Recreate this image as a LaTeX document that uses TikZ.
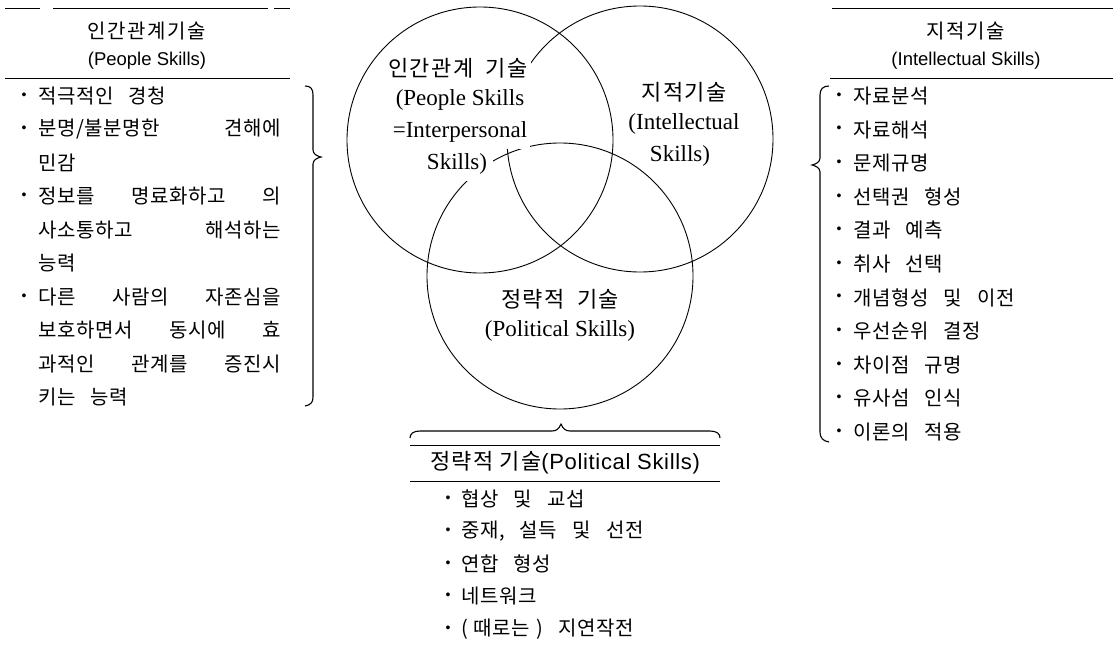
\documentclass[tikz,border=0pt]{standalone}
\usepackage{fontspec}
\setmainfont{Liberation Serif}
\newfontfamily\kr[LetterSpace=3,WordSpace=3]{Noto Sans CJK KR}
\newfontfamily\krh[LetterSpace=8]{Noto Sans CJK KR}
\newfontfamily\krt[LetterSpace=6]{Noto Sans CJK KR}
\newfontfamily\krv[LetterSpace=6,WordSpace=2]{Noto Sans CJK KR}
\newfontfamily\hsans{Liberation Sans}
\newfontfamily\hsanst[LetterSpace=3]{Liberation Sans}
\tikzset{
  ln/.style={line width=1pt},
  br/.style={line width=1.1pt},
  vc/.style={line width=0.9pt},
  hdk/.style={inner sep=0pt, font={\krh\fontsize{20}{22}\selectfont}},
  hde/.style={inner sep=0pt, font={\hsans\fontsize{18.5}{20}\selectfont}},
  li/.style={anchor=west, inner sep=0pt, font={\kr\fontsize{20}{22}\selectfont}},
  bu/.style={inner sep=0pt, font={\hsans\fontsize{14}{15}\selectfont}},
  vk/.style={inner xsep=3pt, inner ysep=0pt, minimum height=33pt, fill=white, font={\krv\fontsize{22}{24}\selectfont}},
  ve/.style={inner xsep=3pt, inner ysep=0pt, minimum height=33pt, fill=white, font={\fontsize{23}{25}\selectfont}},
}
\newcommand{\jl}[1]{\makebox[243pt][s]{#1}}
\begin{document}
\begin{tikzpicture}[x=1pt,y=-1pt]
\useasboundingbox (0,0) rectangle (1115,645);
% ---------- Venn circles
\draw[vc] (480,140) circle[radius=133pt];
\draw[vc] (640,139) circle[radius=133pt];
\draw[vc] (560,276) circle[radius=133pt];
% Venn labels
\node[vk] (p1) at (458,68) {인간관계 기술};
\node[ve] (p2) at (460,100) {(People Skills};
\node[ve] (p3) at (460,132) {=Interpersonal};
\node[ve, inner xsep=6pt] (p4) at (457,164) {Skills)};
\node[vk] (i1) at (684,92) {지적기술};
\node[ve] (i2) at (684,124) {(Intellectual};
\node[ve] (i3) at (680,156) {Skills)};
\node[vk] (c1) at (560,299) {정략적 기술};
\node[ve] (c2) at (560,331) {(Political Skills)};
% ---------- Left block
\draw[ln] (5,8) -- (40,8);
\draw[ln] (53,8) -- (268,8);
\draw[ln] (274,8) -- (290,8);
\node[hdk] (lh1) at (147,31) {인간관계기술};
\node[hde] (lh2) at (147,61) {(People Skills)};
\draw[ln] (5,78) -- (290,78);
\node[bu] (lb1) at (24,96) {•};
\node[li] (l1) at (38,96) {적극적인 경청};
\node[bu] (lb2) at (24,129.5) {•};
\node[li] (l2) at (38,129.5) {\jl{분명/불분명한 견해에}};
\node[li] (l3) at (38,163) {민감};
\node[bu] (lb3) at (24,196.5) {•};
\node[li] (l4) at (38,196.5) {\jl{정보를 명료화하고 의}};
\node[li] (l5) at (38,230) {\jl{사소통하고 해석하는}};
\node[li] (l6) at (38,263.5) {능력};
\node[bu] (lb4) at (24,297) {•};
\node[li] (l7) at (38,297) {\jl{다른 사람의 자존심을}};
\node[li] (l8) at (38,330.5) {\jl{보호하면서 동시에 효}};
\node[li] (l9) at (38,364) {\jl{과적인 관계를 증진시}};
\node[li] (l10) at (38,397.5) {키는 능력};
\draw[br] (305,86) .. controls (311,86) and (313,89) .. (313,95) -- (313,150)
  .. controls (313,154) and (317,156) .. (321,157)
  .. controls (317,158) and (313,160) .. (313,164) -- (313,397)
  .. controls (313,402) and (311,405) .. (305,406);
% ---------- Right block
\draw[ln] (832,8) -- (1113,8);
\node[hdk] (rh1) at (966,31) {지적기술};
\node[hde] (rh2) at (966,61) {(Intellectual Skills)};
\draw[ln] (830,78) -- (1113,78);
\foreach \t [count=\i from 0] in {자료분석,자료해석,문제규명,선택권 형성,결과 예측,취사 선택,개념형성 및 이전,우선순위 결정,차이점 규명,유사섬 인식,이론의 적용}{
  \node[bu] (rb\i) at (839,96+33.6*\i) {•};
  \node[li] (r\i) at (853,96+33.6*\i) {\t};
}
\draw[br] (829,86) .. controls (823,86) and (820,89) .. (820,95) -- (820,158)
  .. controls (820,162) and (816,164) .. (812,165)
  .. controls (816,166) and (820,168) .. (820,172) -- (820,432)
  .. controls (820,438) and (823,441) .. (829,442);
% ---------- Bottom block
\draw[br] (410,438) .. controls (410,434) and (413,431) .. (420,431) -- (552,431)
  .. controls (556,431) and (559,429) .. (561,424)
  .. controls (563,429) and (566,431) .. (570,431) -- (710,431)
  .. controls (717,431) and (720,434) .. (720,438);
\draw[ln] (410,445) -- (720,445);
\node[inner sep=0pt] (bh) at (565,463) {{\krt\fontsize{22}{24}\selectfont 정략적}{\hsans\fontsize{22}{24}\selectfont\ }{\krt\fontsize{22}{24}\selectfont 기술}{\hsanst\fontsize{22}{24}\selectfont (Political Skills)}};
\draw[ln] (410,481) -- (720,481);
\foreach \t [count=\i from 0] in {협상 및 교섭,{중재, 설득 및 선전},연합 형성,네트워크,(\hspace{6pt}때로는\hspace{6pt}) 지연작전}{
  \node[bu] (bb\i) at (448,499+32.5*\i) {•};
  \node[li] (b\i) at (461,499+32.5*\i) {\t};
}
\end{tikzpicture}
\end{document}
